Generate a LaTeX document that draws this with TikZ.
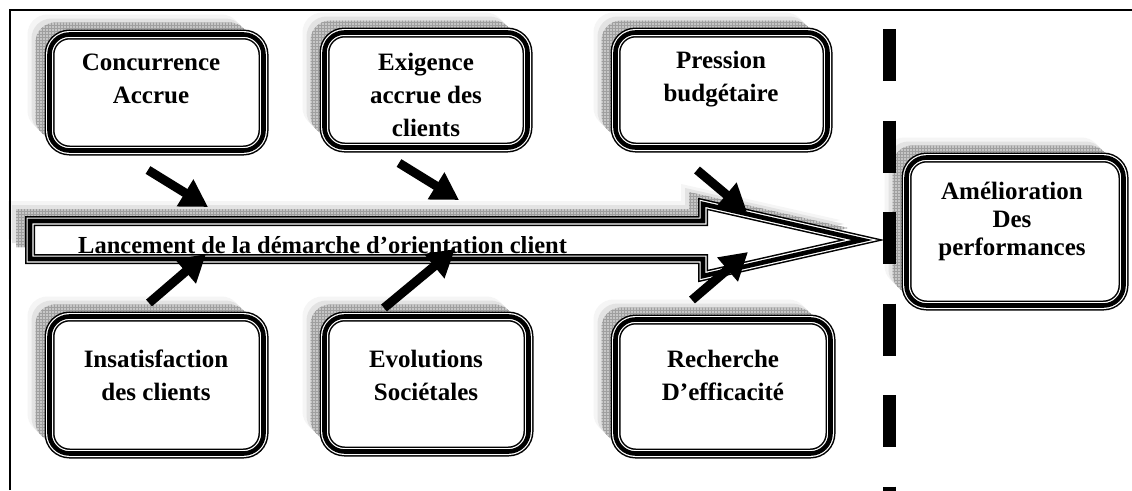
\documentclass[tikz,border=0pt]{standalone}
\usepackage{fontspec}
\setmainfont{Liberation Serif}
\usetikzlibrary{arrows.meta,patterns}

\tikzset{
  % soft grey grid shadow thrown up and to the left
  shadowed/.style={
    preaction={fill=gray!8,  transform canvas={shift={(-22,-20)}}},
    preaction={fill=gray!22, transform canvas={shift={(-18,-16)}}},
    preaction={fill=gray!45, transform canvas={shift={(-14,-12)}}},
    preaction={pattern=grid, pattern color=gray!75, transform canvas={shift={(-14,-12)}}}},
  % thin-thick-thin outline
  tripleline/.style={
    postaction={draw=black, line width=10pt},
    postaction={draw=white, line width=7pt},
    postaction={draw=black, line width=4.6pt}},
  panel/.style={rectangle, rounded corners=20pt, inner sep=0pt, outer sep=0pt,
    shadowed, fill=white, tripleline},
  label/.style={font=\bfseries\fontsize{25}{33}\selectfont, align=center, inner sep=0pt},
  tightlabel/.style={label, font=\bfseries\fontsize{25}{28}\selectfont},
  push/.style={line width=9pt, -{Triangle[length=27pt,width=30pt]}},
  frameline/.style={line width=2pt},
  barrier/.style={line width=13pt, dash pattern=on 52pt off 39.5pt}
}

\begin{document}
\begin{tikzpicture}[x=1pt,y=-1pt]
\useasboundingbox (0,0) rectangle (1132,490);
\clip (0,0) rectangle (1132,490);
\fill[white] (0,0) rectangle (1132,490);

% central arrow
\coordinate (m1) at (30,221);
\coordinate (m2) at (703,221);
\coordinate (m3) at (703,204);
\coordinate (tip) at (862,240);
\coordinate (m5) at (703,276);
\coordinate (m6) at (703,259);
\coordinate (m7) at (30,259);
\path[shadowed, fill=white, tripleline, miter limit=10]
  (m1) -- (m2) -- (m3) -- (tip) -- (m5) -- (m6) -- (m7) -- cycle;
\node[font=\bfseries\fontsize{24.5}{32}\selectfont, anchor=base west, inner sep=0pt]
  (lance) at (78,253) {Lancement de la démarche d’orientation client};

% driver boxes
\node[panel, minimum width=214pt, minimum height=116pt] (b1) at (156.5,92.5) {};
\node[panel, minimum width=203pt, minimum height=115pt] (b2) at (426,90) {};
\node[panel, minimum width=212pt, minimum height=115pt] (b3) at (721.5,90) {};
\node[panel, minimum width=214pt, minimum height=137pt] (b4) at (156.5,385) {};
\node[panel, minimum width=204pt, minimum height=135pt] (b5) at (426.5,384) {};
\node[panel, minimum width=215pt, minimum height=134pt] (b6) at (723,386.5) {};
\node[panel, minimum width=217pt, minimum height=148pt] (b7) at (1015,231.5) {};

\node[label] (t1) at (151,79)  {Concurrence\\Accrue};
\node[label] (t2) at (426,95)  {Exigence\\accrue des\\clients};
\node[label] (t3) at (721,79)  {Pression\\budgétaire};
\node[label] (t4) at (156,375) {Insatisfaction\\des clients};
\node[label] (t5) at (426,375) {Evolutions\\Sociétales};
\node[label] (t6) at (723,375) {Recherche\\D’efficacité};
\node[tightlabel] (t7) at (1012,221) {Amélioration\\Des\\performances};

% dashed barrier
\coordinate (d1) at (889.5,29);
\coordinate (d2) at (889.5,560);
\draw[barrier] (d1) -- (d2);

% pushing arrows
\coordinate (a1s) at (148,170); \coordinate (a1e) at (208,207);
\coordinate (a2s) at (399,163); \coordinate (a2e) at (459,200);
\coordinate (a3s) at (697,170); \coordinate (a3e) at (747,212);
\coordinate (a4s) at (149,303); \coordinate (a4e) at (206,254);
\coordinate (a5s) at (384,308); \coordinate (a5e) at (455,249);
\coordinate (a6s) at (692,300); \coordinate (a6e) at (748,252);
\draw[push] (a1s) -- (a1e);
\draw[push] (a2s) -- (a2e);
\draw[push] (a3s) -- (a3e);
\draw[push] (a4s) -- (a4e);
\draw[push] (a5s) -- (a5e);
\draw[push] (a6s) -- (a6e);

% page frame (top and left edges)
\coordinate (fl) at (10,490);
\coordinate (fc) at (10,10);
\coordinate (fr) at (1132,10);
\draw[frameline] (fl) -- (fc) -- (fr);
\end{tikzpicture}
\end{document}
